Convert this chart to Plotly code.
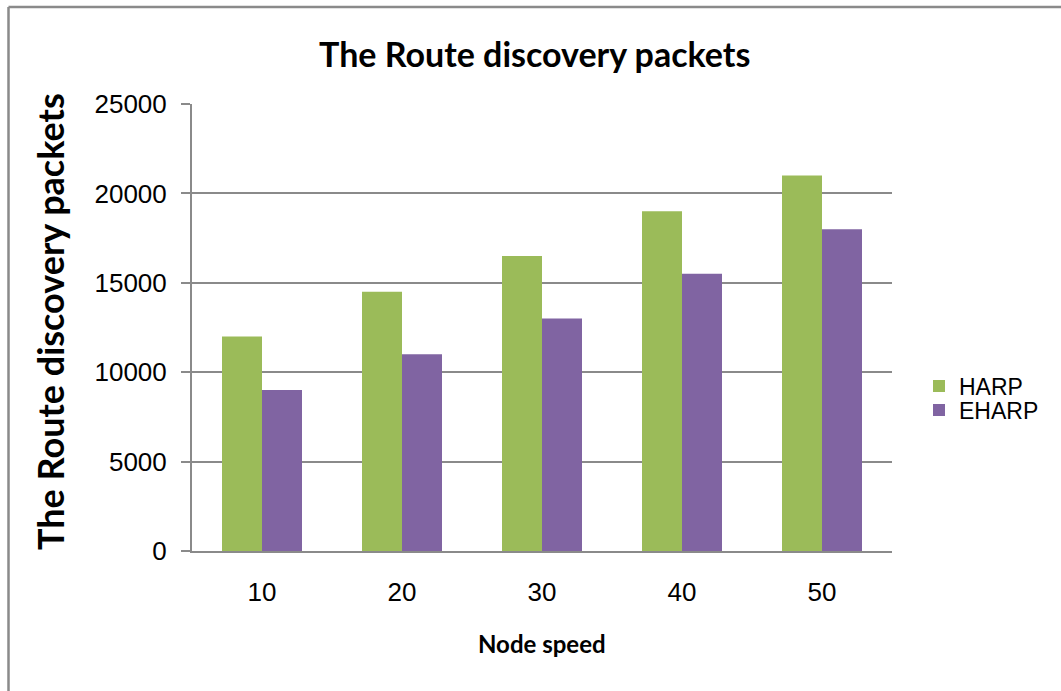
import plotly.graph_objects as go

# Route discovery packets by node speed
node_speed = ["10", "20", "30", "40", "50"]
harp = [12000, 14500, 16500, 19000, 21000]
eharp = [9000, 11000, 13000, 15500, 18000]
y_ticks = [0, 5000, 10000, 15000, 20000, 25000]
y_tick_text = ["0", "5000", "10000", "15000", "20000", "25000"]

W, H = 1061, 691
L, R, T, B = 192, 169, 104, 140
pw, ph = W - L - R, H - T - B


def px_x(x):
    return (x - L) / pw


def px_y(y):
    return (H - B - y) / ph


fig = go.Figure()
fig.add_trace(go.Bar(x=node_speed, y=harp, name="HARP",
                     marker=dict(color="#9BBB59", line=dict(width=0)),
                     legend="legend"))
fig.add_trace(go.Bar(x=node_speed, y=eharp, name="EHARP",
                     marker=dict(color="#8064A2", line=dict(width=0)),
                     legend="legend2"))

grid = "#8A8A8A"
axis_font = dict(family="Liberation Sans, Arial", size=26, color="#000")
legend_font = dict(family="Liberation Sans, Arial", size=23, color="#000")
legend_common = dict(font=legend_font, bgcolor="rgba(0,0,0,0)",
                     xanchor="left", yanchor="middle", itemwidth=30,
                     tracegroupgap=0)

fig.update_layout(
    width=W, height=H,
    margin=dict(l=L, r=R, t=T, b=B),
    paper_bgcolor="white", plot_bgcolor="white",
    barmode="group", bargap=0.4286, bargroupgap=0,
    title=dict(text="<b>The Route discovery packets</b>",
               font=dict(family="Lato", size=34, color="#000"),
               x=0.504, xanchor="center", xref="container",
               y=1 - 55 / H, yanchor="middle", yref="container"),
    xaxis=dict(showgrid=False, showline=True, linecolor=grid, linewidth=2,
               ticks="", tickfont=axis_font, ticklabelstandoff=17),
    yaxis=dict(range=[0, 25000], tickvals=y_ticks, ticktext=y_tick_text,
               showgrid=True, gridcolor=grid,
               gridwidth=1.5, showline=True, linecolor=grid, linewidth=2,
               ticks="outside", ticklen=9, tickcolor=grid, tickwidth=1.5,
               tickfont=axis_font, ticklabelstandoff=9, zeroline=False),
    legend=dict(x=px_x(919), y=px_y(386), **legend_common),
    legend2=dict(x=px_x(919), y=px_y(410), **legend_common),
    showlegend=True,
)

fig.add_annotation(text="<b>The Route discovery packets</b>", textangle=-90,
                   xref="paper", yref="paper", x=px_x(50), y=px_y(322),
                   xanchor="center", yanchor="middle", showarrow=False,
                   font=dict(family="Lato", size=36, color="#000"))
fig.add_annotation(text="<b>Node speed</b>",
                   xref="paper", yref="paper", x=px_x(542), y=px_y(643),
                   xanchor="center", yanchor="middle", showarrow=False,
                   font=dict(family="Lato", size=24, color="#000"))

# outer chart frame
frame = dict(color="#8A8A8A", width=2.5)
fig.add_shape(type="line", xref="paper", yref="paper",
              x0=px_x(8.5), x1=px_x(8.5), y0=px_y(7), y1=px_y(H + 10), line=frame)
fig.add_shape(type="line", xref="paper", yref="paper",
              x0=px_x(8.5), x1=px_x(W + 10), y0=px_y(7), y1=px_y(7), line=frame)

fig.write_html("out.html")
